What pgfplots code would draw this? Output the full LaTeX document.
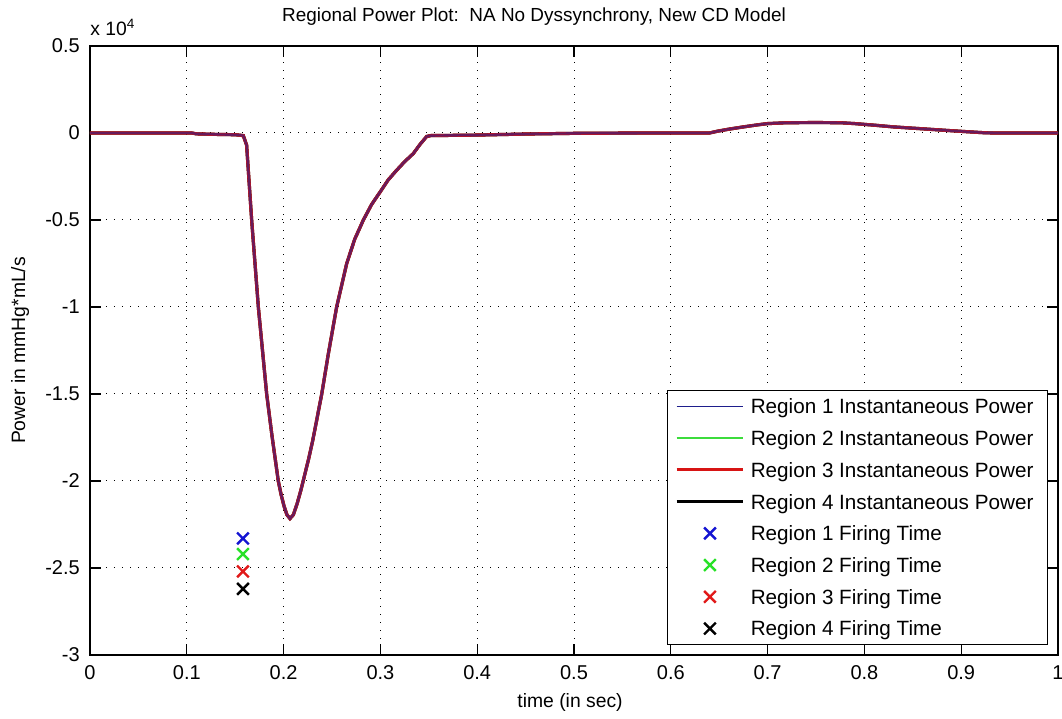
\documentclass[border=0pt]{standalone}
\usepackage{pgfplots}
\usepackage{pgfplotstable}
\pgfplotsset{compat=1.18}
\usepackage{fontspec}
\setmainfont{Liberation Sans}

% Instantaneous power of the four regions (mmHg*mL/s) against time (s)
\pgfplotstableread{
t       r1      r2      r3      r4
0.000   0       0       0       0
0.050   0       0       0       0
0.105   0       0       0       0
0.110   -50     -50     -50     -50
0.130   -80     -80     -80     -80
0.150   -100    -100    -100    -100
0.1584  -150    -150    -150    -150
0.1618  -700    -700    -700    -700
0.1670  -5000   -5000   -5000   -5000
0.1739  -10000  -10000  -10000  -10000
0.1825  -15000  -15000  -15000  -15000
0.1880  -17400  -17400  -17400  -17400
0.1945  -20000  -20000  -20000  -20000
0.1975  -20800  -20800  -20800  -20800
0.2005  -21450  -21450  -21450  -21450
0.2035  -21950  -21950  -21950  -21950
0.2066  -22160  -22160  -22160  -22160
0.2100  -21950  -21950  -21950  -21950
0.2140  -21300  -21300  -21300  -21300
0.2180  -20500  -20500  -20500  -20500
0.2220  -19600  -19600  -19600  -19600
0.2260  -18700  -18700  -18700  -18700
0.2300  -17700  -17700  -17700  -17700
0.2342  -16500  -16500  -16500  -16500
0.2394  -15000  -15000  -15000  -15000
0.2462  -12700  -12700  -12700  -12700
0.2548  -10000  -10000  -10000  -10000
0.2652  -7500   -7500   -7500   -7500
0.2735  -6100   -6100   -6100   -6100
0.2824  -5000   -5000   -5000   -5000
0.2910  -4100   -4100   -4100   -4100
0.2996  -3400   -3400   -3400   -3400
0.3080  -2700   -2700   -2700   -2700
0.3168  -2140   -2140   -2140   -2140
0.3250  -1650   -1650   -1650   -1650
0.3340  -1180   -1180   -1180   -1180
0.3410  -650    -650    -650    -650
0.3478  -200    -200    -200    -200
0.3520  -150    -150    -150    -150
0.4000  -120    -120    -120    -120
0.4500  -60     -60     -60     -60
0.5000  -20     -20     -20     -20
0.5500  -5      -5      -5      -5
0.6000  0       0       0       0
0.6400  0       0       0       0
0.6480  100     100     100     100
0.6600  220     220     220     220
0.6750  350     350     350     350
0.6900  470     470     470     470
0.7000  540     540     540     540
0.7200  590     590     590     590
0.7500  600     600     600     600
0.7750  590     590     590     590
0.7900  540     540     540     540
0.8100  450     450     450     450
0.8300  350     350     350     350
0.8600  240     240     240     240
0.8900  130     130     130     130
0.9100  60      60      60      60
0.9250  10      10      10      10
0.9350  0       0       0       0
1.0000  0       0       0       0
}\powerdata

% Firing time of each region, drawn below the curve
\pgfplotstableread{
t      y
0.158  -23300
}\fireA
\pgfplotstableread{
t      y
0.158  -24200
}\fireB
\pgfplotstableread{
t      y
0.158  -25200
}\fireC
\pgfplotstableread{
t      y
0.158  -26200
}\fireD

\definecolor{rOne}{RGB}{30,30,140}
\definecolor{rTwo}{RGB}{60,220,60}
\definecolor{rThree}{RGB}{215,20,20}
\definecolor{mOne}{RGB}{20,20,210}
\definecolor{mTwo}{RGB}{40,225,40}
\definecolor{mThree}{RGB}{225,25,25}

\begin{document}
\begin{tikzpicture}
\begin{axis}[
  width=726pt, height=456.75pt, scale only axis,
  xmin=0, xmax=1, ymin=-30000, ymax=5000,
  xtick={0,0.1,0.2,0.3,0.4,0.5,0.6,0.7,0.8,0.9,1},
  xticklabels={0,0.1,0.2,0.3,0.4,0.5,0.6,0.7,0.8,0.9,1},
  ytick={-30000,-25000,-20000,-15000,-10000,-5000,0,5000},
  yticklabels={-3,-2.5,-2,-1.5,-1,-0.5,0,0.5},
  scaled y ticks=false,
  grid=major,
  major grid style={black, line width=0.75pt, dash pattern=on 0.75pt off 5.25pt},
  tick align=inside, tick pos=both, xticklabel pos=bottom, yticklabel pos=left,
  major tick length=8pt,
  tick style={black, line width=0.9pt},
  axis line style={black, line width=0.9pt},
  ticklabel style={font=\fontsize{15}{18}\selectfont},
  xticklabel style={anchor=base, yshift=-18.75pt},
  yticklabel style={anchor=east, inner xsep=0pt, xshift=-7.5pt},
  title={Regional Power Plot:\ \ NA No Dyssynchrony, New CD Model},
  title style={at={(axis description cs:0.4587,1)}, anchor=base, yshift=12pt,
    font=\fontsize{14.2}{17}\selectfont},
  xlabel={time (in sec)},
  xlabel style={at={(axis description cs:0.4959,0)}, anchor=base, yshift=-39.75pt,
    font=\fontsize{14.5}{17}\selectfont},
  ylabel={Power in mmHg*mL/s},
  ylabel style={at={(axis description cs:-0.0723,0.5)}, anchor=center,
    font=\fontsize{14.5}{17}\selectfont},
  legend cell align=left,
  legend image code/.code={%
    \draw[mark repeat=2, mark phase=2, #1]
      plot coordinates {(0pt,0pt) (25pt,0pt) (50pt,0pt)};},
  legend style={at={(axis description cs:0.9897,0.0164)}, anchor=south east,
    draw=black, line width=0.9pt, fill=white,
    inner xsep=6pt, inner ysep=0pt, row sep=0pt,
    font=\fontsize{15.5}{18}\selectfont,
    nodes={inner ysep=0pt, inner xsep=4.5pt, text height=17.45pt, text depth=6.35pt}},
  firing/.style={only marks, mark=x, mark size=6.2pt,
    mark options={#1, line width=1.8pt}},
]
% curves, drawn so that the thin lines sit on top of the thick ones
\addplot[black, line width=2.4pt, forget plot] table[x=t, y=r4] {\powerdata};
\addplot[rTwo, line width=0.75pt, forget plot] table[x=t, y=r2] {\powerdata};
\addplot[rThree, line width=2.4pt, forget plot] table[x=t, y=r3] {\powerdata};
\addplot[rOne, line width=1.8pt, opacity=0.6, forget plot] table[x=t, y=r1] {\powerdata};
% firing times
\addplot[firing=mOne, forget plot] table[x=t, y=y] {\fireA};
\addplot[firing=mTwo, forget plot] table[x=t, y=y] {\fireB};
\addplot[firing=mThree, forget plot] table[x=t, y=y] {\fireC};
\addplot[firing=black, forget plot] table[x=t, y=y] {\fireD};
% legend
\addlegendimage{rOne, line width=1pt}
\addlegendentry{Region 1 Instantaneous Power}
\addlegendimage{rTwo, line width=1pt}
\addlegendentry{Region 2 Instantaneous Power}
\addlegendimage{rThree, line width=2.25pt}
\addlegendentry{Region 3 Instantaneous Power}
\addlegendimage{black, line width=2.25pt}
\addlegendentry{Region 4 Instantaneous Power}
\addlegendimage{firing=mOne}
\addlegendentry{Region 1 Firing Time}
\addlegendimage{firing=mTwo}
\addlegendentry{Region 2 Firing Time}
\addlegendimage{firing=mThree}
\addlegendentry{Region 3 Firing Time}
\addlegendimage{firing=black}
\addlegendentry{Region 4 Firing Time}
\end{axis}
% x 10^4 factor of the power axis
\node[anchor=base west, inner sep=0pt, font=\fontsize{14.5}{17}\selectfont]
  at ([yshift=8pt]current axis.north west) {x 10\textsuperscript{4}};
\pgfresetboundingbox
\path ([shift={(-67.5pt,-48pt)}]current axis.south west)
  rectangle ([shift={(3pt,34.5pt)}]current axis.north east);
\end{tikzpicture}
\end{document}
